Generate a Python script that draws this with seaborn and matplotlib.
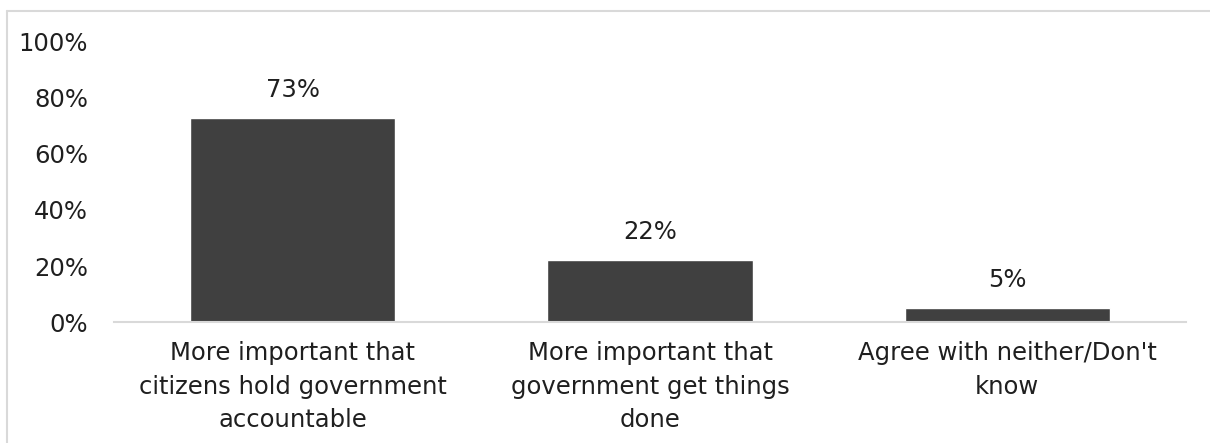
import matplotlib
matplotlib.use("Agg")
import matplotlib.pyplot as plt
import seaborn as sns
import pandas as pd
from matplotlib.lines import Line2D
from matplotlib.ticker import PercentFormatter

categories = [
    "More important that\ncitizens hold government\naccountable",
    "More important that\ngovernment get things\ndone",
    "Agree with neither/Don't\nknow",
]
values = [73, 22, 5]
value_labels = ["73%", "22%", "5%"]
y_ticks = [0, 20, 40, 60, 80, 100]

sns.set_theme(style="white")
plt.rcParams["font.family"] = ["DejaVu Sans"]
text_color = "#1f1f1f"
bar_color = "#404040"
line_color = "#d9d9d9"
font_size = 17.5

df = pd.DataFrame({"category": categories, "value": values})

fig = plt.figure(figsize=(12.10, 4.43), dpi=100)
ax = fig.add_axes([114 / 1210, 1 - 322 / 443, (1186 - 114) / 1210, (322 - 42) / 443])

sns.barplot(data=df, x="category", y="value", color=bar_color, width=0.575,
            saturation=1, ax=ax)

ax.set_ylim(0, 100)
ax.set_yticks(y_ticks)
ax.yaxis.set_major_formatter(PercentFormatter(decimals=0))
ax.set_xlim(-0.5, len(categories) - 0.5)
ax.set_xlabel("")
ax.set_ylabel("")

for side in ["top", "right", "left"]:
    ax.spines[side].set_visible(False)
ax.spines["bottom"].set_color(line_color)
ax.spines["bottom"].set_linewidth(1.5)

ax.tick_params(axis="y", length=0, pad=18.5, labelsize=font_size, labelcolor=text_color)
ax.tick_params(axis="x", length=0, pad=14, labelsize=font_size, labelcolor=text_color)
for lbl in ax.get_xticklabels():
    lbl.set_linespacing(1.5)

for i, (v, lab) in enumerate(zip(values, value_labels)):
    ax.annotate(lab, xy=(i, v), xytext=(0, 11.5), textcoords="offset points",
                ha="center", va="bottom", fontsize=font_size, color=text_color)

# Light frame along the top and left edges
fig.add_artist(Line2D([7 / 1210, 7 / 1210], [0, 1 - 11 / 443],
                      transform=fig.transFigure, color=line_color, lw=1.5))
fig.add_artist(Line2D([7 / 1210, 1], [1 - 11 / 443, 1 - 11 / 443],
                      transform=fig.transFigure, color=line_color, lw=1.5))

fig.savefig("out.png", dpi=100, facecolor="white")
